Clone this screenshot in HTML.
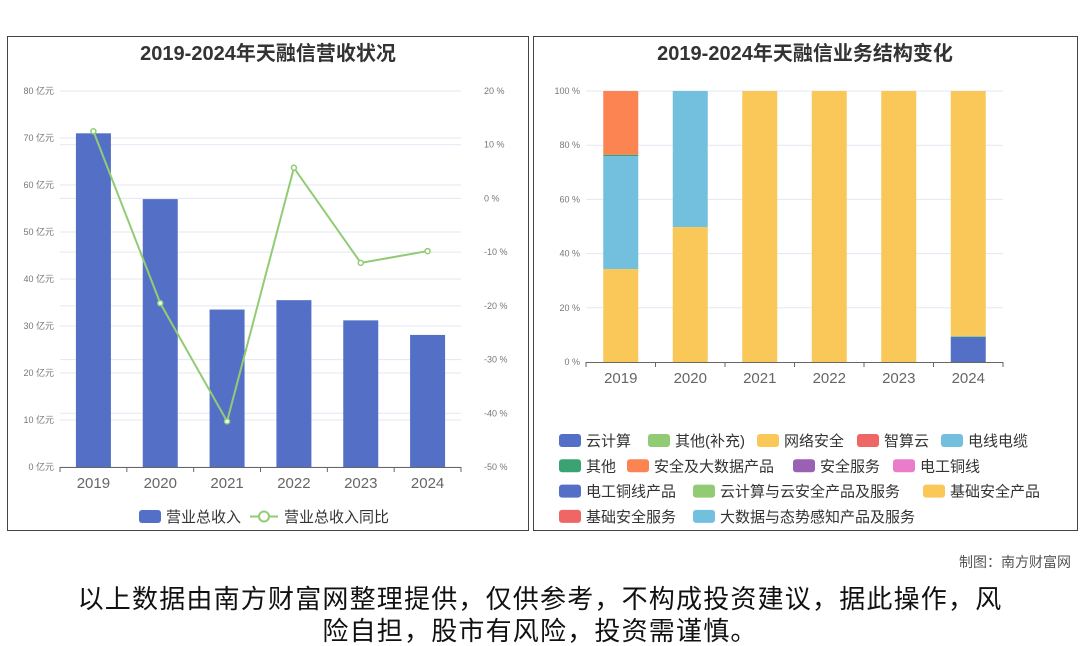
<!DOCTYPE html>
<html><head><meta charset="utf-8"><style>
body{margin:0;width:1080px;height:646px;background:#fff;overflow:hidden;font-family:"Liberation Sans","Noto Sans CJK SC",sans-serif}
svg{position:absolute;left:0;top:0}
</style></head><body>
<svg width="1080" height="646" font-family="Liberation Sans, Noto Sans CJK SC, sans-serif">
<rect x="7.5" y="36.5" width="521" height="494" fill="none" stroke="#444"/>
<rect x="533.5" y="36.5" width="544" height="494" fill="none" stroke="#444"/>
<text x="268" y="60" text-anchor="middle" font-size="20" font-weight="bold" fill="#333">2019-2024年天融信营收状况</text>
<text x="805" y="60" text-anchor="middle" font-size="20" font-weight="bold" fill="#333">2019-2024年天融信业务结构变化</text>
<g id="left"></g><g id="right"></g>
<text x="1071" y="567" text-anchor="end" font-size="14" fill="#555">制图：南方财富网</text>
<text x="540" y="608" text-anchor="middle" font-size="26" letter-spacing="1.2" fill="#111">以上数据由南方财富网整理提供，仅供参考，不构成投资建议，据此操作，风</text>
<text x="540" y="640" text-anchor="middle" font-size="26" letter-spacing="1.2" fill="#111">险自担，股市有风险，投资需谨慎。</text>
</svg>
<script>
const years=["2019","2020","2021","2022","2023","2024"];
const revenue=[71,57,33.5,35.5,31.2,28.1];
const yoy=[12.5,-19.5,-41.5,5.7,-12,-9.8];
const revTicks=[0,10,20,30,40,50,60,70,80];
const yoyTicks=[-50,-40,-30,-20,-10,0,10,20];
const segNames=["云计算","其他(补充)","网络安全","智算云","电线电缆","其他","安全及大数据产品","安全服务","电工铜线","电工铜线产品","云计算与云安全产品及服务","基础安全产品","基础安全服务","大数据与态势感知产品及服务"];
const segColors=["#5470c6","#91cc75","#fac858","#ee6666","#73c0de","#3ba272","#fc8452","#9a60b4","#ea7ccc","#5470c6","#91cc75","#fac858","#ee6666","#73c0de"];
const s_cloud=[0,0,0,0,0,9.3];
const s_otherSup=[0,0,0,0,0,0.4];
const s_netsec=[34.3,49.8,100,100,100,90.3];
const s_cable=[41.7,50.2,0,0,0,0];
const s_other=[0.5,0,0,0,0,0];
const s_bigdata=[23.5,0,0,0,0,0];
const pctTicks=[0,20,40,60,80,100];
const NS="http://www.w3.org/2000/svg";
function mk(p,t,a,txt){const e=document.createElementNS(NS,t);for(const k in a)e.setAttribute(k,a[k]);if(txt!=null)e.textContent=txt;p.appendChild(e);return e;}
const L=document.getElementById('left');
const lx0=60,lx1=461,ly0=467,ly1=91,band=(lx1-lx0)/years.length;
const yL=v=>ly0-(v/80)*(ly0-ly1);
const yR=v=>ly0-((v+50)/70)*(ly0-ly1);
const xC=i=>lx0+band*(i+0.5);
revTicks.forEach(v=>{let g=mk(L,'line',{x1:lx0,x2:lx1,y1:yL(v),y2:yL(v),stroke:'#e3e7f2'});
let t=mk(L,'text',{x:54,y:yL(v)+3,'text-anchor':'end','font-size':9,fill:'#777'},v+' 亿元');});
yoyTicks.forEach(v=>{let g=mk(L,'line',{x1:lx0,x2:lx1,y1:yR(v),y2:yR(v),stroke:'#e3e7f2'});
let t=mk(L,'text',{x:484,y:yR(v)+3,'font-size':9,fill:'#777'},v+' %');});
revenue.forEach((v,i)=>{let b=mk(L,'rect',{x:xC(i)-17.5,y:yL(v),width:35,height:ly0-yL(v),fill:'#5470c6'});});
let ax=mk(L,'line',{x1:lx0,x2:lx1,y1:ly0+.5,y2:ly0+.5,stroke:'#666'});
years.forEach((y,i)=>{mk(L,'line',{x1:lx0+band*i,x2:lx0+band*i,y1:ly0,y2:ly0+5,stroke:'#666'});
let t=mk(L,'text',{x:xC(i),y:488,'text-anchor':'middle','font-size':15,fill:'#666'},y);});
mk(L,'line',{x1:lx1,x2:lx1,y1:ly0,y2:ly0+5,stroke:'#666'});
let pl=mk(L,'polyline',{points:yoy.map((v,i)=>xC(i)+','+yR(v)).join(' '),fill:'none',stroke:'#91cc75','stroke-width':2});
yoy.forEach((v,i)=>{let c=mk(L,'circle',{cx:xC(i),cy:yR(v),r:2.5,fill:'#fff',stroke:'#91cc75','stroke-width':1.5});});
let lg1=mk(L,'rect',{x:139,y:510,width:22,height:13,rx:3,fill:'#5470c6'});
let lt1=mk(L,'text',{x:166,y:522,'font-size':15,fill:'#333'},'营业总收入');
mk(L,'line',{x1:250,x2:278,y1:516.5,y2:516.5,stroke:'#91cc75','stroke-width':2});
let lg2=mk(L,'circle',{cx:264,cy:516.5,r:5,fill:'#fff',stroke:'#91cc75','stroke-width':2});
let lt2=mk(L,'text',{x:284,y:522,'font-size':15,fill:'#333'},'营业总收入同比');
const R=document.getElementById('right');
const rx0=586,rx1=1003,ry0=362,ry1=91,rb=(rx1-rx0)/years.length;
const yP=v=>ry0-(v/100)*(ry0-ry1);
const xR=i=>rx0+rb*(i+0.5);
pctTicks.forEach(v=>{if(v>0){let g=mk(R,'line',{x1:rx0,x2:rx1,y1:yP(v),y2:yP(v),stroke:'#e3e7f2'});}
let t=mk(R,'text',{x:580,y:yP(v)+3,'text-anchor':'end','font-size':9,fill:'#777'},v+' %');});
const series=[[s_cloud,0],[s_otherSup,1],[s_netsec,2],[s_cable,4],[s_other,5],[s_bigdata,6]];
years.forEach((y,i)=>{let acc=0;series.forEach(([arr,ci])=>{const v=arr[i];if(v>0){let r=mk(R,'rect',{x:xR(i)-17.5,y:yP(acc+v),width:35,height:yP(acc)-yP(acc+v),fill:segColors[ci]});}acc+=v;});});
let rax=mk(R,'line',{x1:rx0,x2:rx1,y1:ry0+.5,y2:ry0+.5,stroke:'#666'});
years.forEach((y,i)=>{mk(R,'line',{x1:rx0+rb*i,x2:rx0+rb*i,y1:ry0,y2:ry0+5,stroke:'#666'});
let t=mk(R,'text',{x:xR(i),y:383,'text-anchor':'middle','font-size':15,fill:'#666'},y);});
mk(R,'line',{x1:rx1,x2:rx1,y1:ry0,y2:ry0+5,stroke:'#666'});
const legX=[559,648,757,857,941,559,627,793,893,559,693,923,559,693];
const legRow=[0,0,0,0,0,1,1,1,1,2,2,2,3,3];
segNames.forEach((n,i)=>{const yy=434+legRow[i]*25.3;
let s=mk(R,'rect',{x:legX[i],y:yy,width:22,height:13,rx:3,fill:segColors[i]});
let t=mk(R,'text',{x:legX[i]+27,y:yy+12,'font-size':15,fill:'#333'},n);});
</script>
</body></html>
